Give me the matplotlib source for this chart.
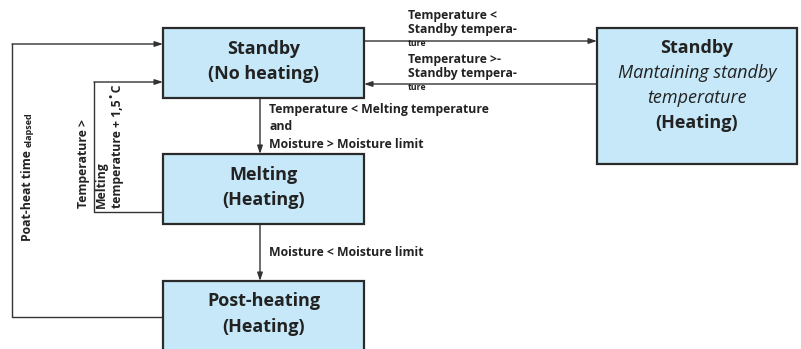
import matplotlib.pyplot as plt
from matplotlib.patches import Rectangle

plt.rcParams.update({
    'font.family': ['Open Sans', 'DejaVu Sans'],
    'font.size': 8,
})

FILL = '#c6e8f8'
EDGE = '#2b2b2b'
LINE = '#333333'

# caixas: (x, y, largura, altura) em pixels da imagem
box_rects = [(163, 28, 201, 70), (597, 28, 200, 136), (163, 154, 201, 70), (163, 281, 201, 90)]
box_lines = [
    [('Standby', 'normal'), ('(No heating)', 'normal')],
    [('Standby', 'normal'), ('Mantaining standby', 'italic'),
     ('temperature', 'italic'), ('(Heating)', 'normal')],
    [('Melting', 'normal'), ('(Heating)', 'normal')],
    [('Post-heating', 'normal'), ('(Heating)', 'normal')],
]
box_text_y = [[49, 74], [48, 73, 98, 123], [175, 200], [301, 327]]

fig = plt.figure(figsize=(8.01, 3.49), dpi=100)
ax = fig.add_axes([0, 0, 1, 1])
ax.set_xlim(0, 801)
ax.set_ylim(349, 0)
ax.axis('off')

for (x, y, w, h), lines, ys in zip(box_rects, box_lines, box_text_y):
    ax.add_patch(Rectangle((x, y), w, h, facecolor=FILL, edgecolor=EDGE, lw=1.6, zorder=2))
    for (txt, st), ty in zip(lines, ys):
        wt = 'normal' if st == 'italic' else 'bold'
        ax.text(x + w / 2, ty, txt, ha='center', va='center', fontsize=13,
                fontweight=wt, fontstyle=st, color='#222', zorder=3)


def arrow(pts):
    xs = [p[0] for p in pts]
    ys = [p[1] for p in pts]
    ax.plot(xs[:-1], ys[:-1], color=LINE, lw=1, zorder=1)
    ax.annotate('', xy=pts[-1], xytext=pts[-2],
                arrowprops=dict(arrowstyle='-|>,head_length=0.6,head_width=0.2',
                                color=LINE, lw=1, shrinkA=0, shrinkB=0), zorder=1)


# transições
arrow([(364, 41), (597, 41)])
arrow([(597, 84), (364, 84)])
arrow([(260, 98), (260, 154)])
arrow([(260, 224), (260, 281)])
arrow([(163, 212), (94, 212), (94, 82), (163, 82)])
arrow([(163, 317), (12, 317), (12, 44), (163, 44)])

lbl = dict(fontsize=8.8, fontweight='bold', color='#222', va='center', ha='left')
small = dict(fontsize=6.3, fontweight='bold', color='#222', va='center', ha='left')
ax.text(408, 15, 'Temperature <', **lbl)
ax.text(408, 30, 'Standby tempera-', **lbl)
ax.text(408, 44, 'ture', **small)
ax.text(408, 59, 'Temperature >-', **lbl)
ax.text(408, 74, 'Standby tempera-', **lbl)
ax.text(408, 88, 'ture', **small)

ax.text(269, 110, 'Temperature < Melting temperature', **lbl)
ax.text(269, 127, 'and', **lbl)
ax.text(269, 144, 'Moisture > Moisture limit', **lbl)
ax.text(269, 252, 'Moisture < Moisture limit', **lbl)

rot = dict(fontsize=8.8, fontweight='bold', color='#222', rotation=90, ha='center', va='bottom')
ax.text(84, 208, 'Temperature >', **rot)
ax.text(101, 208, 'Melting', **rot)
ax.text(117, 208, 'temperature + 1,5˚C', **rot)

# "Poat-heat time" + "elapsed" (menor) numa mesma linha vertical
t1 = ax.text(28, 241, 'Poat-heat time ', **rot)
fig.canvas.draw()
bb = t1.get_window_extent().transformed(ax.transData.inverted())
top = min(bb.y0, bb.y1)
ax.text(29, top, 'elapsed', fontsize=6.5, fontweight='bold', color='#222',
        rotation=90, ha='center', va='bottom')

fig.savefig('out.png', dpi=100)
